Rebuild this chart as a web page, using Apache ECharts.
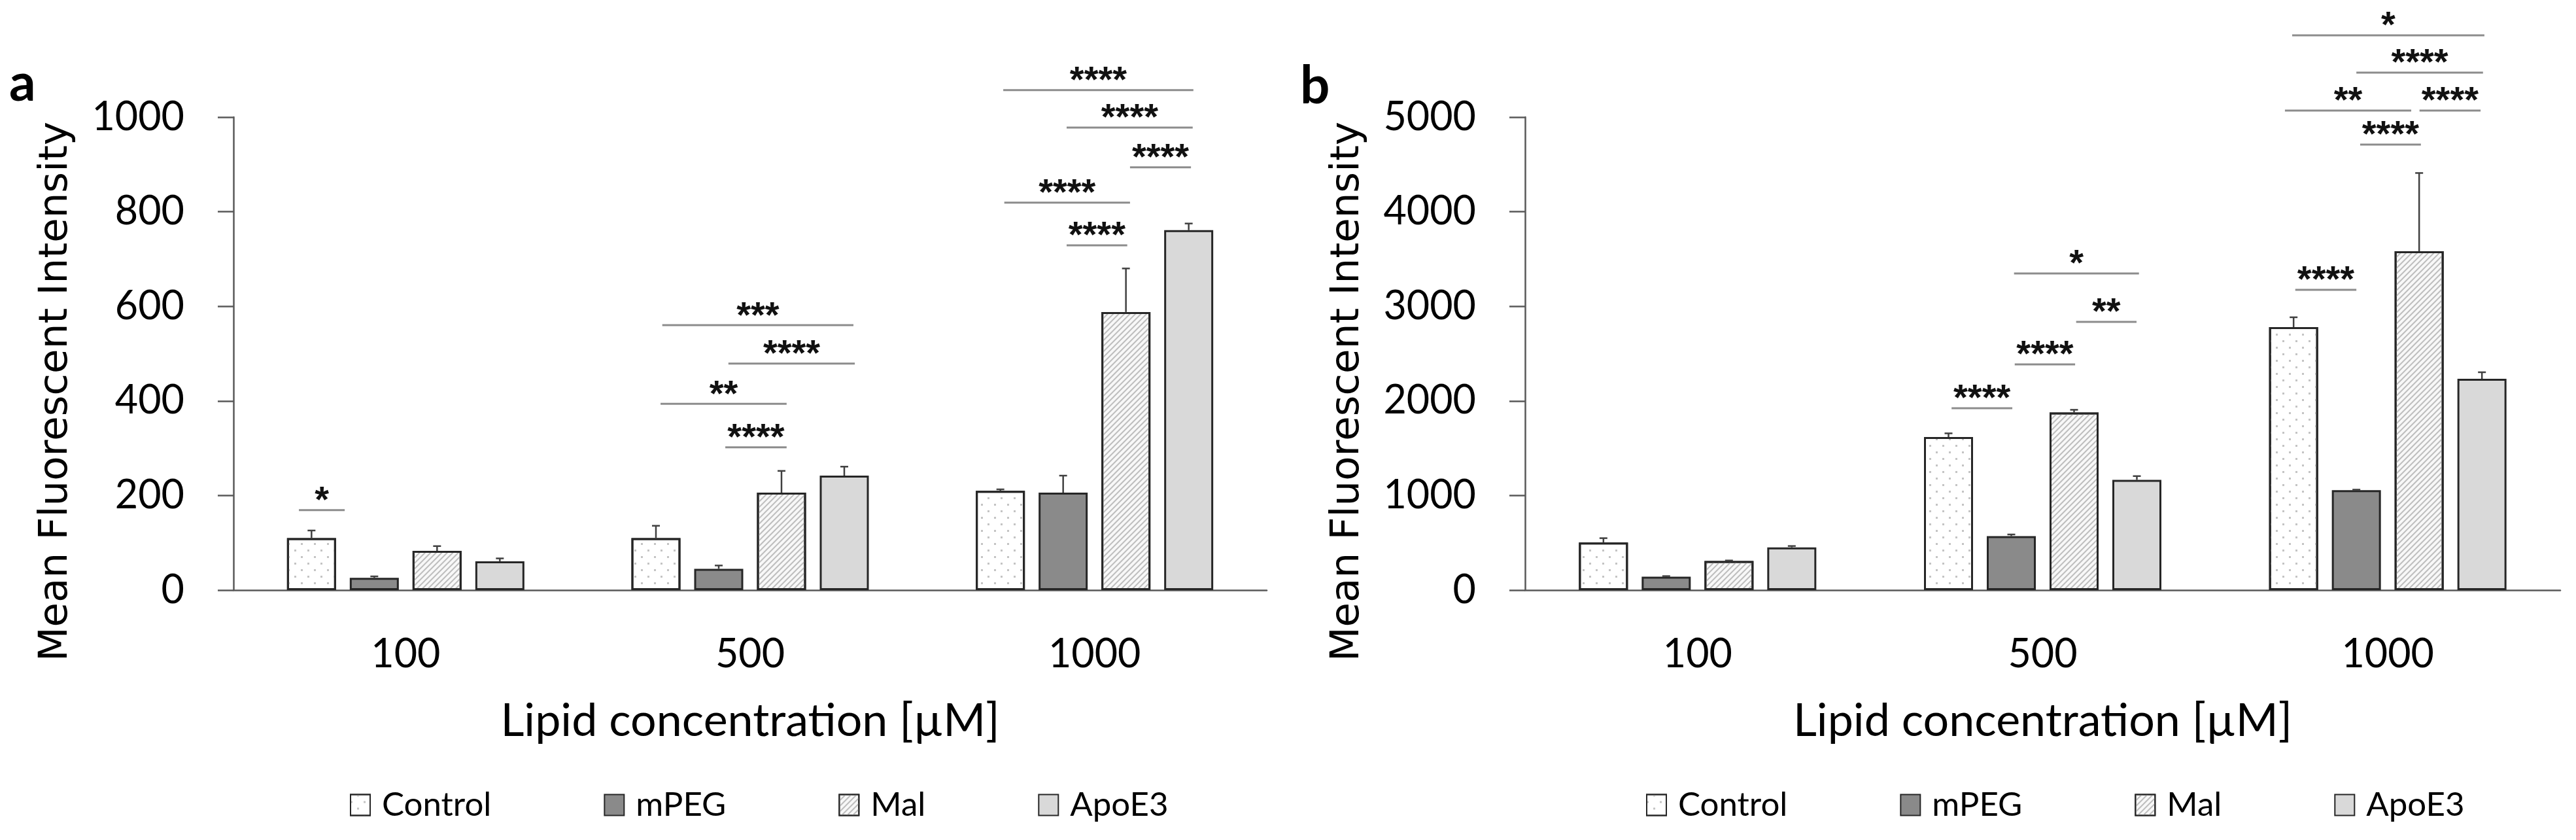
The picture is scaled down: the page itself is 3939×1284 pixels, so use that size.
<!DOCTYPE html>
<html>
<head>
<meta charset="utf-8" />
<title>Mean Fluorescent Intensity</title>
<script src="https://cdn.jsdelivr.net/npm/echarts@6/dist/echarts.min.js"></script>
<style>
    html, body { margin: 0; padding: 0; background: #fff; }
    #chart { width: 3939px; height: 1284px; }
</style>
</head>
<body>
<div id="chart"></div>
<script type="text/javascript">
    // ---- data ----
    var categories = ['100', '500', '1000'];
    var groupNames = ['Control', 'mPEG', 'Mal', 'ApoE3'];

    // panel a (bar height, top of error bar)
    var aControl = [110, 110, 210];
    var aControlErr = [126, 136, 213];
    var aMPEG = [26, 45, 206];
    var aMPEGErr = [29, 52, 242];
    var aMal = [83, 206, 588];
    var aMalErr = [93, 252, 680];
    var aApoE3 = [61, 242, 761];
    var aApoE3Err = [67, 261, 775];

    // panel b
    var bControl = [503, 1618, 2780];
    var bControlErr = [549, 1657, 2884];
    var bMPEG = [141, 571, 1057];
    var bMPEGErr = [148, 588, 1062];
    var bMal = [307, 1878, 3582];
    var bMalErr = [313, 1906, 4409];
    var bApoE3 = [452, 1165, 2233];
    var bApoE3Err = [466, 1205, 2303];

    // significance brackets: [from, to] in category units (0..3), y value
    var aBrackets = [
        [0.190, 0.323, 169],
        [1.245, 1.800, 560], [1.437, 1.804, 479], [1.240, 1.606, 394], [1.428, 1.606, 302],
        [2.235, 2.787, 1057], [2.419, 2.785, 978], [2.603, 2.780, 894], [2.238, 2.603, 819], [2.419, 2.595, 729]
    ];
    var aStars = ['*', '***', '****', '**', '****', '****', '****', '****', '****', '****'];
    var bBrackets = [
        [1.236, 1.412, 1923], [1.419, 1.594, 2386], [1.597, 1.772, 2836], [1.417, 1.779, 3347],
        [2.232, 2.409, 3174], [2.420, 2.596, 4710], [2.202, 2.568, 5069], [2.592, 2.769, 5069],
        [2.409, 2.776, 5471], [2.223, 2.780, 5865]
    ];
    var bStars = ['****', '****', '**', '*', '****', '****', '**', '****', '****', '*'];

    var yTicksA = [0, 1000, 200];
    var yTicksB = [0, 5000, 1000];

    // ---- styles ----
    var FONT = 'Lato';
    var BAR_W = 75;
    var BAR_STEP = 96;
    var axisColor = '#595959';
    var edge = '#262626';

    var looks = [
        { color: '#ffffff', decal: { symbol: 'rect', symbolSize: 1, color: '#c4c4c4',
            dashArrayX: [[2.5, 16.5], [0, 9.5, 2.5, 7]], dashArrayY: [2.5, 7] } },
        { color: '#8a8a8a' },
        { color: '#f8f8f8', decal: { symbol: 'rect', symbolSize: 1, color: '#bdbdbd',
            dashArrayX: [1, 0], dashArrayY: [2, 3.7], rotation: -Math.PI / 4 } },
        { color: '#d9d9d9' }
    ];

    function barSeries(name, k, values, grid) {
        var st = { color: looks[k].color, borderColor: edge, borderWidth: 3 };
        if (looks[k].decal) st.decal = looks[k].decal;
        return {
            name: name, type: 'bar', data: values,
            xAxisIndex: grid * 2, yAxisIndex: grid,
            barWidth: BAR_W, barGap: '28%',
            itemStyle: st, emphasis: { disabled: true }, z: 2
        };
    }

    function errSeries(k, values, errs, grid) {
        var data = values.map(function (v, i) { return [i, errs[i], v]; });
        return {
            type: 'custom', xAxisIndex: grid * 2, yAxisIndex: grid, z: 3,
            silent: true, data: data,
            renderItem: function (params, api) {
                var base = api.coord([api.value(0), api.value(2)]);
                var top = api.coord([api.value(0), api.value(1)]);
                var x = base[0] + (k - 1.5) * BAR_STEP;
                var ls = { stroke: '#404040', lineWidth: 2.5 };
                return {
                    type: 'group', children: [
                        { type: 'line', shape: { x1: x, y1: base[1], x2: x, y2: top[1] }, style: ls },
                        { type: 'line', shape: { x1: x - 6, y1: top[1], x2: x + 6, y2: top[1] }, style: ls }
                    ]
                };
            }
        };
    }

    function bracketSeries(brackets, stars, grid) {
        return {
            type: 'custom', xAxisIndex: grid * 2 + 1, yAxisIndex: grid, z: 4,
            silent: true, clip: false, data: brackets,
            renderItem: function (params, api) {
                var p1 = api.coord([api.value(0), api.value(2)]);
                var p2 = api.coord([api.value(1), api.value(2)]);
                return {
                    type: 'group', children: [
                        { type: 'line', shape: { x1: p1[0], y1: p1[1], x2: p2[0], y2: p2[1] },
                          style: { stroke: '#8c8c8c', lineWidth: 3 } },
                        { type: 'text', x: (p1[0] + p2[0]) / 2, y: p1[1] + 15,
                          style: { text: stars[params.dataIndex], fill: '#111',
                                   font: 'bold 56px "Liberation Sans"', align: 'center', verticalAlign: 'bottom' } }
                    ]
                };
            }
        };
    }

    function catAxis(grid) {
        return {
            type: 'category', gridIndex: grid, data: categories,
            axisLine: { lineStyle: { color: axisColor, width: 2.5 } },
            axisTick: { show: false },
            axisLabel: { fontFamily: FONT, fontSize: 61, color: '#000', margin: 68 },
            name: 'Lipid concentration [µM]', nameLocation: 'middle', nameGap: 165,
            nameTextStyle: { fontFamily: FONT, fontSize: 70, color: '#000' }
        };
    }

    function hiddenAxis(grid) {
        return { type: 'value', gridIndex: grid, min: 0, max: 3, show: false };
    }

    function valAxis(grid, t) {
        return {
            type: 'value', gridIndex: grid, min: t[0], max: t[1], interval: t[2],
            axisLine: { show: true, lineStyle: { color: axisColor, width: 2.5 } },
            axisTick: { show: true, length: 24, lineStyle: { color: axisColor, width: 2.5 } },
            splitLine: { show: false },
            axisLabel: { fontFamily: FONT, fontSize: 61, color: '#000', margin: 75,
                         formatter: function (v) { return String(v); } },
            name: 'Mean Fluorescent Intensity', nameLocation: 'middle', nameGap: 240,
            nameTextStyle: { fontFamily: 'DejaVu Sans', fontSize: 61, color: '#000', padding: [0, 116, 0, 0] }
        };
    }

    function legendAt(left) {
        return {
            left: left, top: 1200, orient: 'horizontal',
            data: groupNames, icon: 'rect', itemWidth: 30, itemHeight: 32, itemGap: 172,
            textStyle: { fontFamily: FONT, fontSize: 51, color: '#000', padding: [0, 0, 0, 13] },
            itemStyle: { borderColor: edge, borderWidth: 2 },
            selectedMode: false
        };
    }

    var series = [];
    var aVals = [aControl, aMPEG, aMal, aApoE3];
    var aErrs = [aControlErr, aMPEGErr, aMalErr, aApoE3Err];
    var bVals = [bControl, bMPEG, bMal, bApoE3];
    var bErrs = [bControlErr, bMPEGErr, bMalErr, bApoE3Err];
    groupNames.forEach(function (n, k) { series.push(barSeries(n, k, aVals[k], 0)); });
    groupNames.forEach(function (n, k) { series.push(barSeries(n, k, bVals[k], 1)); });
    groupNames.forEach(function (n, k) { series.push(errSeries(k, aVals[k], aErrs[k], 0)); });
    groupNames.forEach(function (n, k) { series.push(errSeries(k, bVals[k], bErrs[k], 1)); });
    series.push(bracketSeries(aBrackets, aStars, 0));
    series.push(bracketSeries(bBrackets, bStars, 1));

    var chart = echarts.init(document.getElementById('chart'));
    var option = {
        animation: false,
        backgroundColor: '#fff',
        grid: [
            { left: 357, top: 179, width: 1580, height: 723 },
            { left: 2332, top: 179, width: 1583, height: 723 }
        ],
        xAxis: [catAxis(0), hiddenAxis(0), catAxis(1), hiddenAxis(1)],
        yAxis: [valAxis(0, yTicksA), valAxis(1, yTicksB)],
        legend: [legendAt(530), legendAt(2512)],
        graphic: [
            { type: 'text', left: 14, top: 88, style: { text: 'a', font: 'bold 80px Lato', fill: '#000' } },
            { type: 'text', left: 1988, top: 92, style: { text: 'b', font: 'bold 80px Lato', fill: '#000' } }
        ],
        series: series
    };
    chart.setOption(option);
</script>
</body>
</html>
